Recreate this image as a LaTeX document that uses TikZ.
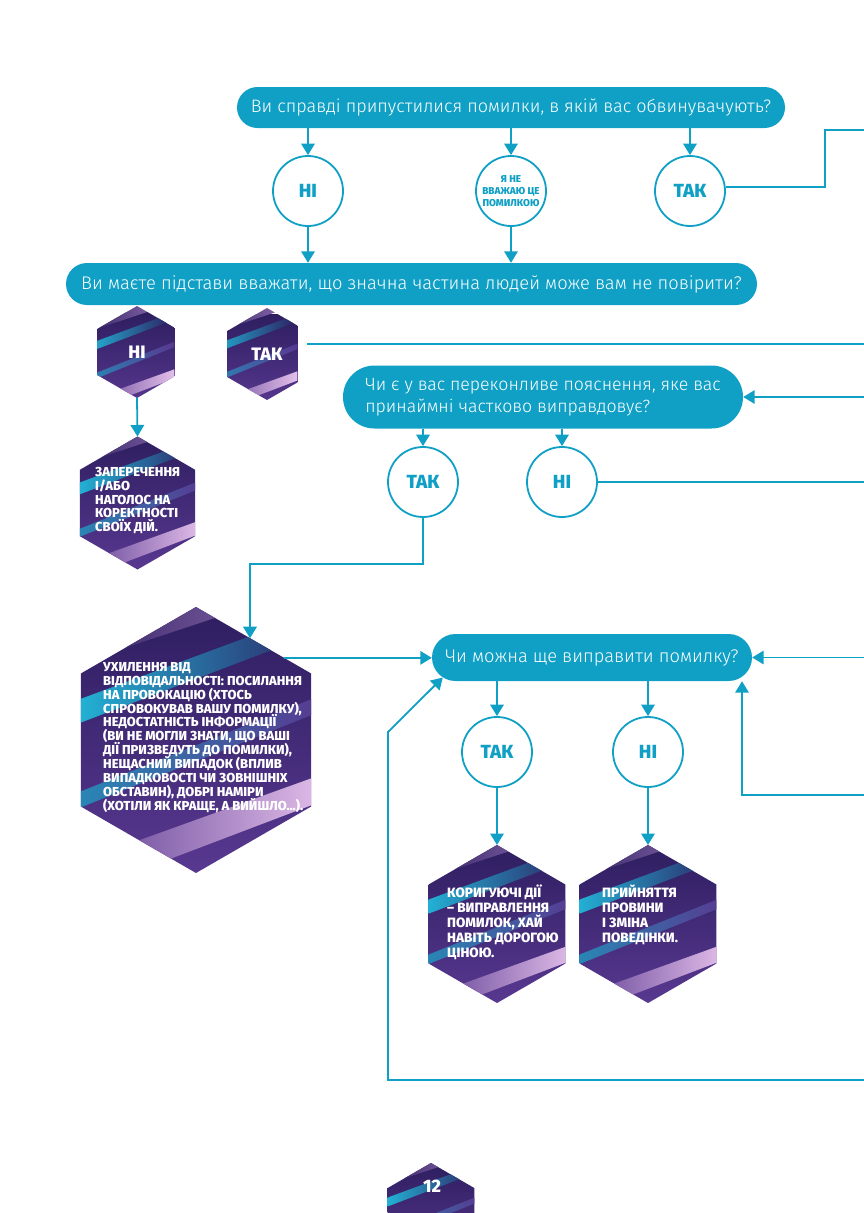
\documentclass[tikz,border=0pt]{standalone}
\usepackage{fontspec}
\setmainfont{Fira Sans}
\newfontfamily\qfont{Fira Sans Light}
\newfontfamily\capsfont{Fira Sans ExtraBold}
\usetikzlibrary{arrows.meta}
\usetikzlibrary{shapes.geometric}
\usetikzlibrary{calc}

\definecolor{flowteal}{RGB}{16,160,197}
\definecolor{hexdeep}{RGB}{46,30,96}
\definecolor{hexmid}{RGB}{88,56,144}
\definecolor{hexcyan}{RGB}{34,186,220}
\definecolor{hexpink}{RGB}{228,192,234}

% lines of a hexagon text, one \\ per line, fixed baseline distance
\newcommand{\hexlines}[3]{\vbox{\capsfont\fontsize{#1}{#2}\selectfont
  \lineskiplimit=-\maxdimen\parindent=0pt\parskip=0pt\hsize=240pt\let\\\par #3}}

\tikzset{
  question/.style={fill=flowteal, minimum height=#1, rounded corners=#1/2, inner sep=0pt,
    text=white, align=center, font=\qfont\fontsize{18.3}{22}\selectfont},
  answer/.style={circle, draw=flowteal, line width=1.8pt, fill=white, minimum size=70pt,
    inner sep=0pt, text=flowteal, align=center, font=\capsfont\fontsize{19}{19}\selectfont},
  link/.style={draw=flowteal, line width=1.8pt},
  flow/.style={link, -{Triangle[width=13.5pt,length=11.5pt]}},
  hexbox/.style={regular polygon, regular polygon sides=6, shape border rotate=90,
    minimum size={2*#1}, inner sep=0pt, outer sep=0pt, text=white,
    font=\capsfont\fontsize{18}{18}\selectfont,
    path picture={
      \begin{scope}[shift={(path picture bounding box.center)}, x={#1*0.02pt}, y={-#1*0.02pt}]
        \shade[top color=hexdeep, bottom color=hexmid] (-50,-50) rectangle (50,50);
        \shade[left color=hexdeep, right color=hexpink!45!hexmid] (-50,-38) -- (50,-74) -- (50,-60) -- (-50,-27) -- cycle;
        \shade[left color=hexcyan, right color=hexdeep] (-50,-13) -- (50,-50) -- (50,-42) -- (-50,-4) -- cycle;
        \shade[left color=hexcyan!70!hexdeep, right color=hexmid] (-50,22) -- (50,-18) -- (50,-12) -- (-50,28) -- cycle;
        \shade[left color=hexmid, right color=hexpink] (-50,48) -- (50,12) -- (50,22) -- (-50,60) -- cycle;
      \end{scope}}},
  hextext/.style={text=white, inner sep=0pt, anchor=west},
}

\begin{document}
\begin{tikzpicture}[x=1pt, y=-1pt]
\useasboundingbox (0,0) rectangle (864,1213);

% first question
\node[question=41pt, minimum width=548pt, font=\qfont\fontsize{18}{22}\selectfont] (accused) at (511,107.5) {Ви справді припустилися помилки, в якій вас обвинувачують?};
\node[answer] (guiltno) at (308,191) {НІ};
\node[answer, font=\capsfont\fontsize{10}{12}\selectfont] (guiltdoubt) at (511,191) {Я НЕ\\ВВАЖАЮ ЦЕ\\ПОМИЛКОЮ};
\node[answer] (guiltyes) at (690,191) {ТАК};
\coordinate (guiltjog) at (825,130);
\coordinate (guiltout) at (864,130);

% second question
\node[question=42pt, minimum width=691pt] (belief) at (411.5,284) {Ви маєте підстави вважати, що значна частина людей може вам не повірити?};
\node[hexbox=46] (beliefno) at (137,352) {НІ};
\node[hexbox=46] (beliefyes) at (267,354) {ТАК};
\node[hexbox=66.5] (deny) at (137.5,503) {};
\node[hextext] (denytext) at ([xshift=-42.5pt, yshift=2.5pt]deny.center)
  {\hexlines{13}{13.8}{ЗАПЕРЕЧЕННЯ\\І/АБО\\НАГОЛОС НА\\КОРЕКТНОСТІ\\СВОЇХ ДІЙ.}};
\coordinate (beliefout) at (864,344);

% third question
\node[question=63pt, minimum width=400pt, align=left, font=\qfont\fontsize{17.7}{22}\selectfont] (excuse) at (543,397)
  {Чи є у вас переконливе пояснення, яке вас\\принаймні частково виправдовує?};
\coordinate (excusein) at (864,397);
\node[answer] (excuseyes) at (423,482) {ТАК};
\node[answer] (excuseno) at (562,482) {НІ};
\coordinate (excuseout) at (864,482);
\coordinate (excusejog) at (250,564);
\node[hexbox=133] (dodge) at (196,740) {};
\node[hextext] (dodgetext) at ([xshift=-93pt, yshift=2.5pt]dodge.center)
  {\hexlines{13}{13.9}{УХИЛЕННЯ ВІД\\ВІДПОВІДАЛЬНОСТІ: ПОСИЛАННЯ\\НА ПРОВОКАЦІЮ (ХТОСЬ\\СПРОВОКУВАВ ВАШУ ПОМИЛКУ),\\НЕДОСТАТНІСТЬ ІНФОРМАЦІЇ\\(ВИ НЕ МОГЛИ ЗНАТИ, ЩО ВАШІ\\ДІЇ ПРИЗВЕДУТЬ ДО ПОМИЛКИ),\\НЕЩАСНИЙ ВИПАДОК (ВПЛИВ\\ВИПАДКОВОСТІ ЧИ ЗОВНІШНІХ\\ОБСТАВИН), ДОБРІ НАМІРИ\\(ХОТІЛИ ЯК КРАЩЕ, А ВИЙШЛО...).}};

% fourth question
\node[question=47pt, minimum width=320pt] (fixable) at (592,657.5) {Чи можна ще виправити помилку?};
\coordinate (fixin) at (864,657.5);
\coordinate (fixupout) at (864,795);
\coordinate (fixupjog) at (742,795);
\coordinate (loopout) at (864,1080);
\coordinate (loopjog) at (388,732);
\node[answer] (fixyes) at (497,752) {ТАК};
\node[answer] (fixno) at (648,752) {НІ};
\node[hexbox=79] (correct) at (497,924) {};
\node[hextext] (correcttext) at ([xshift=-50pt, yshift=2pt]correct.center)
  {\hexlines{13.5}{15}{КОРИГУЮЧІ ДІЇ\\– ВИПРАВЛЕННЯ\\ПОМИЛОК, ХАЙ\\НАВІТЬ ДОРОГОЮ\\ЦІНОЮ.}};
\node[hexbox=79] (accept) at (648,924) {};
\node[hextext] (accepttext) at ([xshift=-46pt, yshift=9.5pt]accept.center)
  {\hexlines{13.5}{15}{ПРИЙНЯТТЯ\\ПРОВИНИ\\І ЗМІНА\\ПОВЕДІНКИ.}};

% page number
\node[hexbox=50] (pagehex) at (431,1213) {};
\node[text=white, font=\capsfont\fontsize{18}{18}\selectfont, inner sep=0pt] (pagenum) at (432,1186) {12};

% connectors
\draw[flow] (accused.south -| guiltno) -- (guiltno.north);
\draw[flow] (accused.south -| guiltdoubt) -- (guiltdoubt.north);
\draw[flow] (accused.south -| guiltyes) -- (guiltyes.north);
\draw[link] ([yshift=4pt]guiltyes.east) -| (guiltjog) -- (guiltout);
\draw[flow] (guiltno.south) -- (guiltno.south |- belief.north);
\draw[flow] (guiltdoubt.south) -- (guiltdoubt.south |- belief.north);
\draw[flow] (beliefno.south) -- (deny.north);
\draw[link] ([yshift=10pt]beliefyes.east) -- (beliefout);
\draw[flow] (excusein) -- (excuse.east);
\draw[flow] (excuse.south -| excuseyes) -- (excuseyes.north);
\draw[flow] (excuse.south -| excuseno) -- (excuseno.north);
\draw[link] (excuseno.east) -- (excuseout);
\draw[flow] (excuseyes.south) |- (excusejog) -- (excusejog |- dodge.62);
\draw[flow] (dodge.43) -- (dodge.43 -| fixable.west);
\draw[flow] (fixin) -- (fixable.east);
\draw[flow] (fixupout) -- (fixupjog) -- (fixupjog |- fixable.south);
\draw[flow] (loopout) -| (loopjog) -- ($(fixable.west)+(11,20)$);
\draw[flow] (fixable.south -| fixyes) -- (fixyes.north);
\draw[flow] (fixable.south -| fixno) -- (fixno.north);
\draw[flow] (fixyes.south) -- (correct.north);
\draw[flow] (fixno.south) -- (accept.north);
\end{tikzpicture}
\end{document}
